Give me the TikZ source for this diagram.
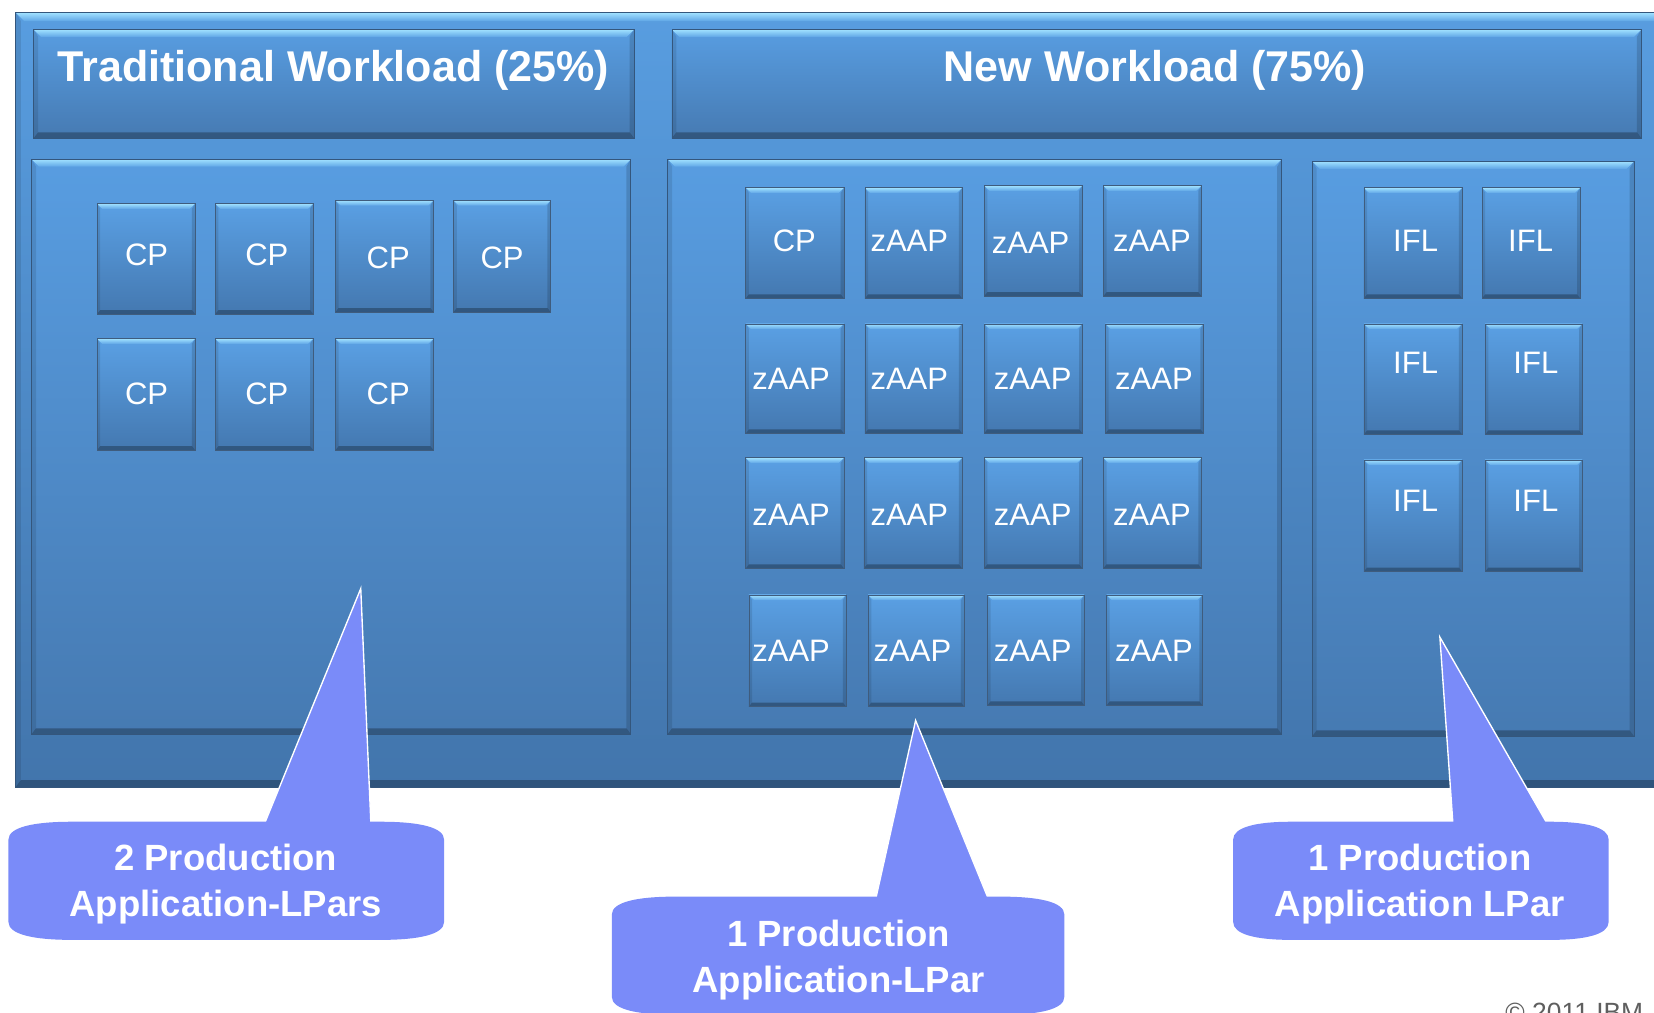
\documentclass[tikz,border=0pt]{standalone}
\usepackage{fontspec}
\setmainfont{Liberation Sans}
\usetikzlibrary{calc}
\definecolor{bgTop}{RGB}{88,157,224}
\definecolor{bgBot}{RGB}{66,117,172}
\definecolor{panTop}{RGB}{88,157,225}
\definecolor{panBot}{RGB}{70,122,178}
\definecolor{tileTop}{RGB}{90,160,228}
\definecolor{tileBot}{RGB}{68,120,176}
\definecolor{hiTop}{RGB}{160,225,255}
\definecolor{hiBot}{RGB}{95,165,230}
\definecolor{edgeDark}{RGB}{52,86,124}
\definecolor{callC}{RGB}{122,139,249}
\definecolor{copyC}{RGB}{95,95,95}
\tikzset{
  bevel/.style={path picture={
    \coordinate (@nw) at (path picture bounding box.north west);
    \coordinate (@ne) at (path picture bounding box.north east);
    \coordinate (@se) at (path picture bounding box.south east);
    \coordinate (@sw) at (path picture bounding box.south west);
    \fill[black,opacity=0.10] (@nw) -- ([shift={(0.6*#1,-#1)}]@nw) -- ([shift={(0.6*#1,0.8*#1)}]@sw) -- (@sw) -- cycle;
    \fill[black,opacity=0.14] (@ne) -- ([shift={(-0.6*#1,-#1)}]@ne) -- ([shift={(-0.6*#1,0.8*#1)}]@se) -- (@se) -- cycle;
    \fill[black,opacity=0.28] (@sw) -- ([shift={(0.6*#1,0.8*#1)}]@sw) -- ([shift={(-0.6*#1,0.8*#1)}]@se) -- (@se) -- cycle;
    \shade[top color=hiTop, bottom color=hiBot] (@nw) -- (@ne) -- ([shift={(-#1,-#1)}]@ne) -- ([shift={(#1,-#1)}]@nw) -- cycle;
  }},
  outer/.style={inner sep=0pt, top color=bgTop, bottom color=bgBot, bevel=8pt, draw=edgeDark, line width=0.8pt},
  panel/.style={inner sep=0pt, top color=panTop, bottom color=panBot, bevel=7pt, draw=edgeDark, line width=0.6pt},
  tile/.style={inner sep=0pt, top color=tileTop, bottom color=tileBot, bevel=5pt, draw=edgeDark!85!gray, line width=0.6pt},
  tilelabel/.style={text=white, inner sep=0pt, font=\fontsize{29.4}{35}\selectfont, text height=21pt, text depth=0pt},
  title/.style={text=white, inner sep=0pt, font=\fontsize{40.8}{48}\selectfont\bfseries, text height=29.2pt, text depth=0pt},
  calltext/.style={text=white, inner sep=0pt, align=center, font=\fontsize{34.6}{43}\selectfont\bfseries},
  callfill/.style={fill=callC},
  tailedge/.style={draw=white, line width=1.3pt},
}
\newcommand\boxat[6]{\node[#1, minimum width={(#5-#3)*1pt}, minimum height={(#6-#4)*1pt}] (#2) at ({(#3+#5)/2},{(#4+#6)/2}) {};}
\newcommand\tilebox[8]{%
  \node[tile, minimum width={(#4-#2)*1pt}, minimum height={(#5-#3)*1pt}] (#1) at ({(#2+#4)/2},{(#3+#5)/2}) {};
  \node[tilelabel] (#1-t) at (#7,#8) {#6};}
% callout body: x1 y1 x2 y2 rx ry
\newcommand\callbody[6]{%
  \fill[callfill] (#1,#2+#6) .. controls (#1,#2+0.3*#6) and (#1+0.4*#5,#2) .. (#1+#5,#2)
    -- (#3-#5,#2) .. controls (#3-0.4*#5,#2) and (#3,#2+0.3*#6) .. (#3,#2+#6)
    -- (#3,#4-#6) .. controls (#3,#4-0.3*#6) and (#3-0.4*#5,#4) .. (#3-#5,#4)
    -- (#1+#5,#4) .. controls (#1+0.4*#5,#4) and (#1,#4-0.3*#6) .. (#1,#4-#6) -- cycle;}
\begin{document}
\begin{tikzpicture}[x=1pt,y=-1pt]
\useasboundingbox (0,0) rectangle (1568,960);
% frame and panels
\boxat{outer}{frame}{15}{12}{1585}{746}
\boxat{panel}{tl}{32}{28}{601}{131}
\boxat{panel}{tr}{637}{28}{1556}{131}
\boxat{panel}{pl}{30}{151}{598}{696}
\boxat{panel}{pm}{633}{151}{1215}{696}
\boxat{panel}{pr}{1244}{153}{1549}{698}
\node[title] (tlt) at (316,63) {Traditional Workload (25\%)};
\node[title] (trt) at (1095,63) {New Workload (75\%)};
% left tiles
\tilebox{l1}{92}{193}{185}{298}{CP}{139}{241}
\tilebox{l2}{204}{193}{297}{298}{CP}{253}{241}
\tilebox{l3}{318}{190}{411}{296}{CP}{368}{244}
\tilebox{l4}{430}{190}{522}{296}{CP}{476}{244}
\tilebox{l5}{92}{321}{185}{427}{CP}{139}{373}
\tilebox{l6}{204}{321}{297}{427}{CP}{253}{373}
\tilebox{l7}{318}{321}{411}{427}{CP}{368}{373}
% middle tiles
\tilebox{m11}{707}{178}{800}{283}{CP}{753}{228}
\tilebox{m12}{820}{178}{912}{283}{zAAP}{862}{228}
\tilebox{m13}{933}{176}{1026}{281}{zAAP}{977}{230}
\tilebox{m14}{1046}{176}{1139}{281}{zAAP}{1092}{228}
\tilebox{m21}{707}{307}{800}{411}{zAAP}{750}{359}
\tilebox{m22}{820}{307}{912}{411}{zAAP}{862}{359}
\tilebox{m23}{933}{307}{1026}{411}{zAAP}{979}{359}
\tilebox{m24}{1048}{307}{1141}{411}{zAAP}{1094}{359}
\tilebox{m31}{707}{434}{800}{539}{zAAP}{750}{488}
\tilebox{m32}{819}{434}{912}{539}{zAAP}{862}{488}
\tilebox{m33}{933}{434}{1026}{539}{zAAP}{979}{488}
\tilebox{m34}{1046}{434}{1139}{539}{zAAP}{1092}{488}
\tilebox{m41}{710}{564}{802}{670}{zAAP}{750}{617}
\tilebox{m42}{823}{564}{914}{670}{zAAP}{865}{617}
\tilebox{m43}{936}{564}{1028}{669}{zAAP}{979}{617}
\tilebox{m44}{1049}{564}{1140}{669}{zAAP}{1094}{617}
% right tiles
\tilebox{r11}{1293}{178}{1386}{283}{IFL}{1342}{228}
\tilebox{r12}{1405}{178}{1498}{283}{IFL}{1451}{228}
\tilebox{r21}{1293}{307}{1386}{412}{IFL}{1342}{344}
\tilebox{r22}{1408}{307}{1500}{412}{IFL}{1456}{344}
\tilebox{r31}{1293}{436}{1386}{542}{IFL}{1342}{474}
\tilebox{r32}{1408}{436}{1500}{542}{IFL}{1456}{474}
% callout tails
\coordinate (tipA) at (342,558);
\coordinate (tipB) at (868,683);
\coordinate (tipC) at (1365,604);
\fill[callfill] (247,790) -- (tipA) -- (352,790) -- cycle;
\draw[tailedge] (247,790) -- (tipA) -- (352,790);
\fill[callfill] (828,862) -- (tipB) -- (941,862) -- cycle;
\draw[tailedge] (828,862) -- (tipB) -- (941,862);
\fill[callfill] (1378,790) -- (tipC) -- (1472,790) -- cycle;
\draw[tailedge] (1378,790) -- (tipC) -- (1472,790);
% callout bodies
\callbody{8}{779}{421}{891}{60}{17}
\callbody{580}{850}{1009}{962}{60}{17}
\callbody{1169}{779}{1525}{891}{55}{17}
\node[calltext] (cA) at (214,838) {2 Production\\Application-LPars};
\node[calltext] (cB) at (795,910) {1 Production\\Application-LPar};
\node[calltext] (cC) at (1346,838) {1 Production\\Application LPar};
% copyright
\node[text=copyC, inner sep=0pt, anchor=base west, font=\fontsize{25}{30}\selectfont] (copy) at (1427,968) {\textcopyright\ 2011 IBM};
\end{tikzpicture}
\end{document}
